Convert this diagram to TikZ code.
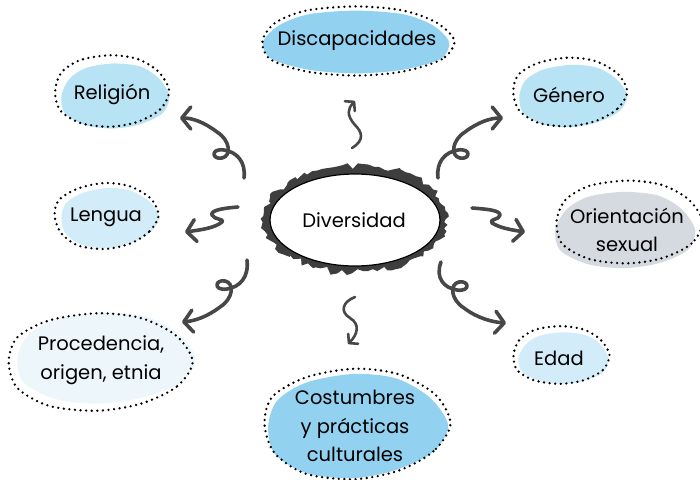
\documentclass[tikz,border=0pt]{standalone}
\usepackage{fontspec}
\setmainfont{Poppins}
\usetikzlibrary{arrows.meta}
\definecolor{arr}{HTML}{474747}
\definecolor{ring}{HTML}{3E3E3E}
\definecolor{bDark}{HTML}{92D2F0}
\definecolor{bMid}{HTML}{B8E3F4}
\definecolor{bLight}{HTML}{D3ECF9}
\definecolor{bPale}{HTML}{EDF7FB}
\definecolor{bGray}{HTML}{D5D9E0}
\tikzset{
  dotline/.style={line width=2.6pt, dash pattern=on 0pt off 5.6pt, line cap=round},
  lbl/.style={font=\fontsize{19.5}{28.5}\selectfont, align=center, text=black},
  swirl/.style={draw=arr, line width=3.6pt, line cap=round, line join=round,
    -{Straight Barb[length=9pt,width=22pt,line cap=round,line join=round]}},
  small/.style={draw=arr, line width=2.6pt, line cap=round, line join=round,
    -{Straight Barb[length=6pt,width=14pt,line cap=round,line join=round]}}
}
\newcommand\myblob[8]{%
  \fill[#5] plot[smooth cycle, domain=0:330, samples=12]
    ({#1+#6+(#3-3)*(1+0.05*sin(3*\x+#8))*cos(\x)},{#2+#7+(#4-3)*(1+0.05*cos(2*\x+#8))*sin(\x)});
  \draw[dotline] plot[smooth cycle, domain=0:330, samples=12]
    ({#1+#3*(1+0.04*sin(3*\x+#8+40))*cos(\x)},{#2+#4*(1+0.04*cos(2*\x+#8))*sin(\x)});
}
\begin{document}
\begin{tikzpicture}[x=1pt,y=-1pt]
\useasboundingbox (0,0) rectangle (700,479);

% blobs
\myblob{356}{41}{96}{36}{bDark}{0}{1}{0}
\myblob{110}{91}{57}{37}{bMid}{4}{5}{30}
\myblob{568}{92}{57}{35}{bMid}{3}{4}{60}
\myblob{105}{216}{52}{33}{bLight}{3}{2}{90}
\myblob{627}{222}{73}{43}{bGray}{-3}{8}{20}
\myblob{97}{362}{92}{50}{bPale}{6}{-4}{50}
\myblob{560}{355}{48}{30}{bLight}{3}{3}{10}
\myblob{354}{424}{93}{56}{bDark}{0}{2}{70}

% centre
\pgfmathsetseed{11}
\fill[ring] plot[domain=0:357, samples=110]
  ({355+(88+8*rnd)*cos(\x)},{219+(50+8*rnd)*sin(\x)}) -- cycle;
\draw[fill=white, line width=1.2pt] (355,220) ellipse [x radius=85, y radius=46];

% labels
\node[lbl] (div) at (354,220) {Diversidad};
\node[lbl] (dis) at (357,41) {Discapacidades};
\node[lbl] (rel) at (112,94) {Religión};
\node[lbl] (gen) at (569,95) {Género};
\node[lbl] (len) at (106,217) {Lengua};
\node[lbl] (ori) at (627,230) {Orientación\\sexual};
\node[lbl] (pro) at (101,360) {Procedencia,\\origen, etnia};
\node[lbl] (eda) at (559,358) {Edad};
\node[lbl] (cos) at (355,426) {Costumbres\\y prácticas\\culturales};

% arrow anchors
\coordinate (relT) at (244,178); \coordinate (relH) at (180,118);
\coordinate (genT) at (438,178); \coordinate (genH) at (503,118);
\coordinate (proT) at (247,260); \coordinate (proH) at (182,322);
\coordinate (edaT) at (441,262); \coordinate (edaH) at (506,323);
\coordinate (lenT) at (238,207); \coordinate (lenH) at (185,232);
\coordinate (oriT) at (472,208); \coordinate (oriH) at (525,232);
\coordinate (disT) at (352,148); \coordinate (disH) at (355,101);
\coordinate (cosT) at (355,297); \coordinate (cosH) at (348,344);

\draw[swirl] (relT) .. controls (246,162) and (237,152) .. (224,150)
  .. controls (210,148) and (212,160) .. (222,158)
  .. controls (232,156) and (230,140) .. (217,132)
  .. controls (204,122) and (192,118) .. (relH);
\draw[swirl] (genT) .. controls (436,162) and (445,152) .. (458,150)
  .. controls (472,148) and (470,160) .. (460,158)
  .. controls (450,156) and (452,140) .. (465,132)
  .. controls (478,122) and (491,118) .. (genH);
\draw[swirl] (proT) .. controls (249,277) and (240,287) .. (227,289)
  .. controls (213,291) and (215,279) .. (225,281)
  .. controls (235,283) and (233,299) .. (220,307)
  .. controls (207,317) and (194,321) .. (proH);
\draw[swirl] (edaT) .. controls (435,278) and (444,288) .. (457,290)
  .. controls (471,292) and (469,280) .. (459,282)
  .. controls (449,284) and (451,300) .. (464,308)
  .. controls (477,318) and (492,322) .. (edaH);
\draw[swirl] (lenT) .. controls (225,208) and (210,210) .. (212,215)
  .. controls (214,220) and (226,219) .. (222,222)
  .. controls (215,228) and (200,230) .. (lenH);
\draw[swirl] (oriT) .. controls (485,209) and (500,210) .. (500,215)
  .. controls (500,220) and (488,219) .. (492,223)
  .. controls (500,228) and (512,230) .. (oriH);
\draw[small] (disT) .. controls (365,140) and (362,132) .. (355,125)
  .. controls (346,115) and (348,108) .. (disH);
\draw[small] (cosT) .. controls (342,302) and (340,312) .. (350,318)
  .. controls (360,324) and (358,334) .. (cosH);
\end{tikzpicture}
\end{document}
